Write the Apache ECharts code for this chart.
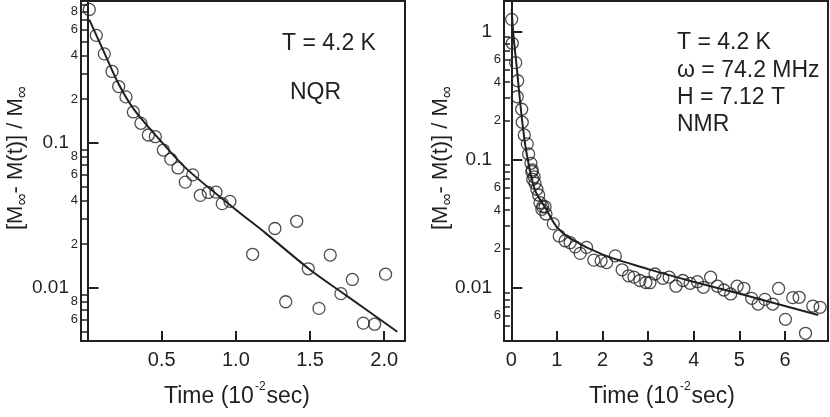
<!DOCTYPE html>
<html>
<head>
<meta charset="utf-8">
<title>Magnetization recovery</title>
<script src="https://cdn.jsdelivr.net/npm/echarts@6/dist/echarts.min.js"></script>
<style>
  html, body { margin: 0; padding: 0; background: #fff; }
  #chart { width: 830px; height: 417px; }
</style>
</head>
<body>
<div id="chart"></div>
<script>
// time in 10^-2 s, value = [M_inf - M(t)] / M_inf
const nqrPoints = [
  [0.012, 0.83], [0.059, 0.55], [0.113, 0.41], [0.165, 0.31], [0.21, 0.244],
  [0.259, 0.207], [0.309, 0.163], [0.36, 0.136], [0.41, 0.113], [0.457, 0.11],
  [0.511, 0.089], [0.561, 0.077], [0.61, 0.067], [0.659, 0.0535], [0.709, 0.06],
  [0.76, 0.0433], [0.814, 0.0454], [0.866, 0.0456], [0.908, 0.038], [0.96, 0.0394],
  [1.113, 0.017], [1.263, 0.0256], [1.336, 0.008], [1.41, 0.0287], [1.488, 0.0135],
  [1.56, 0.0072], [1.636, 0.0168], [1.708, 0.0091], [1.785, 0.0114], [1.859, 0.0057],
  [1.935, 0.0056], [2.009, 0.0124]
]
const nqrFit = [
  [0.012, 0.706], [0.106, 0.433], [0.208, 0.256], [0.309, 0.172], [0.489, 0.104],
  [0.668, 0.066], [1.0, 0.0345], [1.2, 0.0238], [1.5, 0.0133], [1.75, 0.00875],
  [2.088, 0.00497]
]
const nmrPoints = [
  [0.009, 1.24], [0.022, 0.806], [0.096, 0.569], [0.14, 0.411], [0.13, 0.308],
  [0.228, 0.246], [0.24, 0.195], [0.285, 0.155], [0.35, 0.132], [0.38, 0.11],
  [0.43, 0.093], [0.45, 0.08], [0.46, 0.0825], [0.47, 0.0698], [0.5, 0.073],
  [0.52, 0.0649], [0.56, 0.0583], [0.6, 0.0526], [0.63, 0.0458], [0.69, 0.0426],
  [0.74, 0.0426], [0.67, 0.0407], [0.76, 0.0374], [0.92, 0.0313], [1.05, 0.0252],
  [1.18, 0.0231], [1.29, 0.0223], [1.4, 0.0207], [1.51, 0.0184], [1.65, 0.0205],
  [1.81, 0.0163], [1.97, 0.0161], [2.09, 0.0156], [2.28, 0.0176], [2.43, 0.0137],
  [2.57, 0.0123], [2.69, 0.012], [2.82, 0.0113], [2.95, 0.0109], [3.04, 0.01086],
  [3.15, 0.0127], [3.32, 0.01175], [3.46, 0.012], [3.61, 0.0102], [3.76, 0.0113],
  [3.92, 0.01074], [4.08, 0.01106], [4.21, 0.01], [4.37, 0.012], [4.52, 0.0102],
  [4.66, 0.00953], [4.81, 0.00887], [4.95, 0.0102], [5.1, 0.00982], [5.27, 0.0082],
  [5.41, 0.0074], [5.56, 0.00805], [5.73, 0.0074], [5.86, 0.0098], [6.01, 0.00562],
  [6.17, 0.0083], [6.31, 0.00835], [6.45, 0.00437], [6.61, 0.00714], [6.77, 0.00698]
]
const nmrFit = [
  [0.009, 1.47], [0.044, 0.96], [0.118, 0.529], [0.228, 0.215], [0.336, 0.111],
  [0.52, 0.0575], [0.775, 0.0402], [0.995, 0.0297], [1.29, 0.0241], [2.02, 0.0179],
  [3.04, 0.01375], [3.99, 0.01106], [5.01, 0.0089], [6.73, 0.00608]
]

const nqrXTicks = [0.5, 1.0, 1.5, 2.0]
const nmrXTicks = [0, 1, 2, 3, 4, 5, 6]
const nqrMajor = [0.01, 0.1]
const nqrMinor = [0.005, 0.006, 0.007, 0.008, 0.009, 0.02, 0.03, 0.04, 0.05, 0.06, 0.07, 0.08, 0.09,
  0.2, 0.3, 0.4, 0.5, 0.6, 0.7, 0.8, 0.9]
const nqrMinorLabels = [0.006, 0.008, 0.02, 0.04, 0.06, 0.08, 0.2, 0.4, 0.6, 0.8]
const nmrMajor = [0.01, 0.1, 1]
const nmrMinor = [0.005, 0.006, 0.007, 0.008, 0.009, 0.02, 0.03, 0.04, 0.05, 0.06, 0.07, 0.08, 0.09,
  0.2, 0.3, 0.4, 0.5, 0.6, 0.7, 0.8, 0.9]
const nmrMinorLabels = [0.006, 0.02, 0.04, 0.06, 0.2, 0.4, 0.6]

const ink = '#231f20'
const font = 'Liberation Sans'

function leadDigit (v) {
  const p = Math.pow(10, Math.floor(Math.log10(v) + 1e-9))
  return String(Math.round(v / p))
}

function yAxes (grid, min, max, major, minor, minorLabels) {
  const base = {
    type: 'log',
    gridIndex: grid,
    position: 'left',
    min: min,
    max: max,
    axisLine: { show: true, lineStyle: { color: ink, width: 2 } },
    splitLine: { show: false }
  }
  return [
    Object.assign({}, base, {
      axisTick: { inside: true, length: 11, customValues: major, lineStyle: { color: ink, width: 2 } },
      axisLabel: { customValues: major, margin: 12, fontSize: 19, fontFamily: font, color: ink,
        formatter: v => String(v) }
    }),
    Object.assign({}, base, {
      axisTick: { inside: true, length: 6, customValues: minor, lineStyle: { color: ink, width: 1.5 } },
      axisLabel: { customValues: minorLabels, margin: 3, fontSize: 13, fontFamily: font, color: ink,
        formatter: leadDigit }
    })
  ]
}

function xAxis (grid, min, max, ticks, fmt) {
  return {
    type: 'value',
    gridIndex: grid,
    min: min,
    max: max,
    axisLine: { show: true, lineStyle: { color: ink, width: 2 } },
    axisTick: { inside: true, length: 10, customValues: ticks, lineStyle: { color: ink, width: 2 } },
    axisLabel: { customValues: ticks, margin: 9, fontSize: 20, fontFamily: font, color: ink, formatter: fmt },
    splitLine: { show: false }
  }
}

const circle = {
  type: 'scatter',
  symbol: 'circle',
  symbolSize: 12,
  itemStyle: { color: 'rgba(0,0,0,0)', borderColor: ink, borderWidth: 1.3 },
  z: 3
}
const fitLine = {
  type: 'line',
  smooth: 0.3,
  showSymbol: false,
  lineStyle: { color: ink, width: 2 },
  z: 2
}

function label (x, y, text, size) {
  return { type: 'text', x: x, y: y, style: { text: text, font: size + 'px ' + font, fill: ink, verticalAlign: 'middle' } }
}
const yTitle = '[M{s|∞}- M(t)] / M{s|∞}'
const xTitle = 'Time (10{p|-2}sec)'
function title (x, y, text, rot, size) {
  return {
    type: 'text', x: x, y: y, rotation: rot,
    style: {
      text: text, font: size + 'px ' + font, fill: ink, align: 'center', verticalAlign: 'middle',
      rich: {
        s: { fontSize: 17, fontFamily: font, fill: ink, padding: [12, 0, 0, 0] },
        p: { fontSize: 12, fontFamily: font, fill: ink, padding: [0, 1, 20, 1] }
      }
    }
  }
}

const chart = echarts.init(document.getElementById('chart'))
chart.setOption({
  animation: false,
  grid: [
    { left: 81, top: 1, width: 324, height: 340, show: true, borderColor: ink, borderWidth: 2 },
    { left: 504, top: 1, width: 324, height: 340, show: true, borderColor: ink, borderWidth: 2 }
  ],
  xAxis: [
    xAxis(0, -0.044, 2.14, nqrXTicks, v => v.toFixed(1)),
    xAxis(1, -0.16, 6.943, nmrXTicks, v => String(v))
  ],
  yAxis: yAxes(0, 0.00429, 0.949, nqrMajor, nqrMinor, nqrMinorLabels)
    .concat(yAxes(1, 0.003806, 1.725, nmrMajor, nmrMinor, nmrMinorLabels)),
  series: [
    Object.assign({}, circle, { xAxisIndex: 0, yAxisIndex: 0, data: nqrPoints }),
    Object.assign({}, fitLine, { xAxisIndex: 0, yAxisIndex: 0, data: nqrFit }),
    Object.assign({}, circle, { xAxisIndex: 1, yAxisIndex: 2, data: nmrPoints }),
    Object.assign({}, fitLine, { xAxisIndex: 1, yAxisIndex: 2, data: nmrFit })
  ],
  graphic: [
    label(282, 44, 'T = 4.2 K', 23),
    label(290, 93, 'NQR', 23),
    label(677, 43, 'T = 4.2 K', 23),
    label(677, 71, 'ω = 74.2 MHz', 23),
    label(677, 98, 'H = 7.12 T', 23),
    label(677, 125, 'NMR', 23),
    title(16, 158, yTitle, Math.PI / 2, 22),
    title(441, 158, yTitle, Math.PI / 2, 22),
    title(237, 397, xTitle, 0, 23),
    title(662, 397, xTitle, 0, 23)
  ]
})
</script>
</body>
</html>
